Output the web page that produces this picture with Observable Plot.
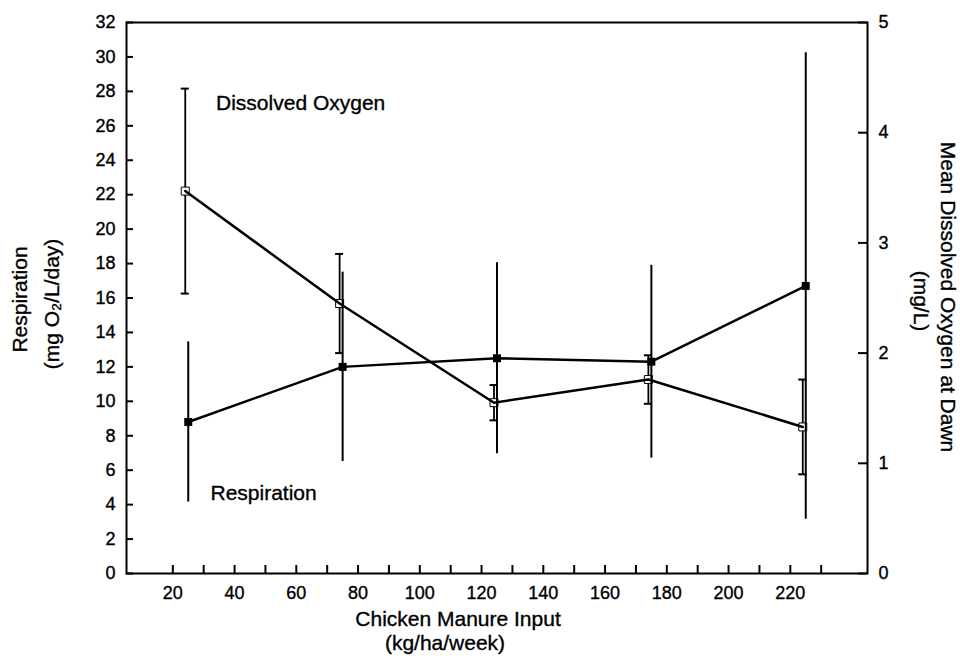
<!DOCTYPE html>
<html>
<head>
<meta charset="utf-8">
<script src="https://cdn.jsdelivr.net/npm/d3@7"></script>
<script src="https://cdn.jsdelivr.net/npm/@observablehq/plot@0.6"></script>
<style>
  body { margin: 0; background: #fff; }
  #chart svg { display: block; }
  #chart svg text { stroke: #000; stroke-width: 0.35px; }
</style>
</head>
<body>
<div id="chart"></div>
<script>
// Manure input levels (kg/ha/week)
const manure = [25, 75, 125, 175, 225];
// Respiration, mg O2/L/day (left axis): mean and error half-width
const respiration = [8.8, 12.0, 12.5, 12.3, 16.7];
const respirationErr = [4.65, 5.5, 5.55, 5.6, 13.55];
// Mean dissolved oxygen at dawn, mg/L (right axis): mean and error half-width
const oxygen = [3.47, 2.45, 1.55, 1.76, 1.33];
const oxygenErr = [0.93, 0.45, 0.16, 0.22, 0.43];

// Axis ticks
const leftTicks = d3.range(0, 33, 2);
const rightTicks = [0, 1, 2, 3, 4, 5];
const xTicks = d3.range(20, 231, 10);
const xLabels = d3.range(20, 221, 20);

// In-plot series labels
const seriesNames = ["Dissolved Oxygen", "Respiration"];
const seriesLabelX = [34, 32.2];
const seriesLabelY = [26.9, 4.25];

// Right axis (0–5 mg/L) shares the vertical extent of the left axis (0–32)
const k = 32 / 5;

const rows = manure.map((x, i) => ({
  x,
  resp: respiration[i],
  respErr: respirationErr[i],
  ox: oxygen[i] * k,
  oxLo: (oxygen[i] - oxygenErr[i]) * k,
  oxHi: (oxygen[i] + oxygenErr[i]) * k
}));
const labels = seriesNames.map((text, i) => ({text, x: seriesLabelX[i], y: seriesLabelY[i]}));

const font = "'Liberation Sans', Arial, Helvetica, sans-serif";
const W = 960, H = 662;
const mL = 126, mR = 93, mT = 22, mB = 89;
const innerW = W - mL - mR, innerH = H - mT - mB;

const title = (text, frameAnchor, rotate, dx, dy) =>
  Plot.text([text], {frameAnchor, rotate, dx, dy, textAnchor: "middle", lineAnchor: "middle", fontSize: 21});

const chart = Plot.plot({
  width: W,
  height: H,
  marginLeft: mL,
  marginRight: mR,
  marginTop: mT,
  marginBottom: mB,
  style: {fontFamily: font, fontSize: "18px", color: "#000", background: "#fff"},
  x: {domain: [5, 245], label: null},
  y: {domain: [0, 32], label: null},
  marks: [
    // axis labels
    Plot.axisY(leftTicks, {anchor: "left", tickSize: 0, tickPadding: 11, label: null}),
    Plot.axisY(rightTicks.map(d => d * k), {anchor: "right", tickSize: 0, tickPadding: 11, label: null,
      tickFormat: d => String(Math.round(d / k))}),
    Plot.axisX(xLabels, {anchor: "bottom", tickSize: 0, tickPadding: 13, label: null}),
    // inward tick marks
    Plot.tickY(leftTicks, {y: d => d, insetRight: innerW - 7, strokeWidth: 2}),
    Plot.tickY(rightTicks, {y: d => d * k, insetLeft: innerW - 9, strokeWidth: 2}),
    Plot.tickX(xTicks, {x: d => d, insetTop: innerH - 8, strokeWidth: 2}),
    Plot.frame({strokeWidth: 2}),

    // dissolved oxygen: capped error bars, open squares, line
    Plot.ruleX(rows, {x: "x", y1: "oxLo", y2: "oxHi", dx: -3, strokeWidth: 1.8}),
    Plot.ruleY(rows, {y: "oxLo", x1: "x", x2: "x", insetLeft: -4, insetRight: -4, dx: -3, strokeWidth: 2}),
    Plot.ruleY(rows, {y: "oxHi", x1: "x", x2: "x", insetLeft: -4, insetRight: -4, dx: -3, strokeWidth: 2}),
    Plot.dot(rows, {x: "x", y: "ox", symbol: "square", r: 4.5, fill: "white", stroke: "black", strokeWidth: 1, dx: -3}),
    Plot.line(rows, {x: "x", y: "ox", dx: -3, strokeWidth: 2.5}),

    // respiration: plain error bars, filled squares, line
    Plot.ruleX(rows, {x: "x", y1: d => d.resp - d.respErr, y2: d => d.resp + d.respErr, strokeWidth: 2}),
    Plot.line(rows, {x: "x", y: "resp", strokeWidth: 2.5}),
    Plot.dot(rows, {x: "x", y: "resp", symbol: "square", r: 4.5, fill: "black"}),

    // series labels
    Plot.text(labels, {x: "x", y: "y", text: "text", textAnchor: "start", lineAnchor: "bottom", fontSize: 21}),

    // axis titles
    title("Respiration", "left", -90, -106, 1.5),
    title("(mg O₂/L/day)", "left", -90, -74, 6),
    title("Mean Dissolved Oxygen at Dawn", "right", 90, 80, -1),
    title("(mg/L)", "right", 90, 53, 3),
    title("Chicken Manure Input", "bottom", 0, -39, 46),
    title("(kg/ha/week)", "bottom", 0, -52, 70)
  ]
});

document.getElementById("chart").appendChild(chart);
</script>
</body>
</html>
